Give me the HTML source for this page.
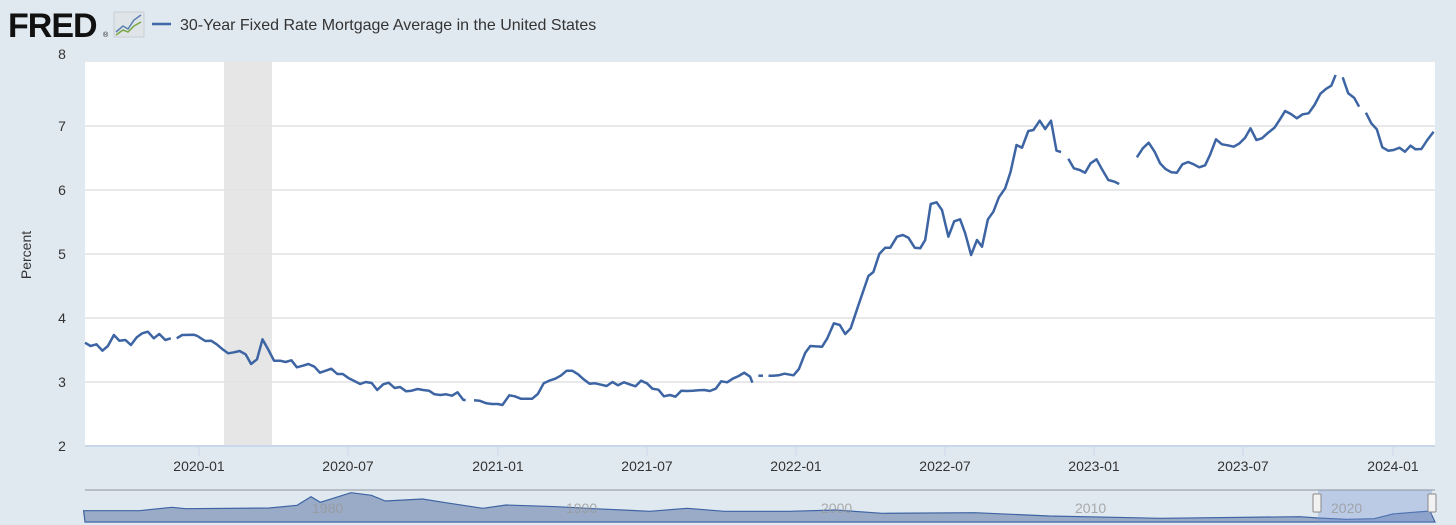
<!DOCTYPE html>
<html><head><meta charset="utf-8"><style>
body{margin:0;width:1456px;height:525px;background:#e1e9f0;overflow:hidden;font-family:"Liberation Sans",sans-serif}
svg{position:absolute;left:0;top:0}
</style></head><body>
<svg width="1456" height="525" viewBox="0 0 1456 525" id="s">
<text x="8" y="37" font-size="34" font-weight="bold" fill="#111" font-family="Liberation Sans" letter-spacing="-1">FRED</text>
<text x="103" y="37" font-size="7" fill="#111">®</text>
<rect x="114" y="12" width="30" height="25" fill="#dfe4e8" stroke="#c8ced4"/>
<polyline points="116,32 123,26 128,29 134,20 141,15" fill="none" stroke="#5a7fb0" stroke-width="1.5"/>
<polyline points="116,35 123,30 128,32 134,26 141,22" fill="none" stroke="#79a642" stroke-width="1.5"/>
<line x1="152" y1="24" x2="171" y2="24" stroke="#4068a8" stroke-width="2.5"/>
<text x="180" y="30" font-size="16" fill="#333">30-Year Fixed Rate Mortgage Average in the United States</text>
<rect x="85" y="62" width="1350" height="384" fill="#fff"/>
<rect x="224" y="62" width="48" height="384" fill="#e6e6e6"/>
<g stroke="#e2e2e2" stroke-width="1.5">
<line x1="85" x2="1435" y1="126" y2="126"/><line x1="85" x2="1435" y1="190" y2="190"/>
<line x1="85" x2="1435" y1="254" y2="254"/><line x1="85" x2="1435" y1="318" y2="318"/>
<line x1="85" x2="1435" y1="382" y2="382"/></g>
<line x1="85" x2="1435" y1="446" y2="446" stroke="#ccd6eb" stroke-width="2"/>
<g stroke="#ccd6eb"><line x1="199" x2="199" y1="446" y2="456"/><line x1="348" x2="348" y1="446" y2="456"/><line x1="498" x2="498" y1="446" y2="456"/><line x1="647" x2="647" y1="446" y2="456"/><line x1="796" x2="796" y1="446" y2="456"/><line x1="945" x2="945" y1="446" y2="456"/><line x1="1094" x2="1094" y1="446" y2="456"/><line x1="1243" x2="1243" y1="446" y2="456"/><line x1="1393" x2="1393" y1="446" y2="456"/></g>
<g font-size="14" fill="#333" text-anchor="middle">
<text x="62" y="59">8</text><text x="62" y="131">7</text><text x="62" y="195">6</text><text x="62" y="259">5</text><text x="62" y="323">4</text><text x="62" y="387">3</text><text x="62" y="451">2</text>
<text x="199" y="471">2020-01</text><text x="348" y="471">2020-07</text><text x="498" y="471">2021-01</text><text x="647" y="471">2021-07</text><text x="796" y="471">2022-01</text><text x="945" y="471">2022-07</text><text x="1094" y="471">2023-01</text><text x="1243" y="471">2023-07</text><text x="1393" y="471">2024-01</text>
<text transform="translate(31,255) rotate(-90)">Percent</text>
</g>
<rect x="85" y="490" width="1350" height="32" fill="#e1e9f0"/>
<line x1="85" x2="1435" y1="490" y2="490" stroke="#b8bec6" stroke-width="2"/>
<path id="nav" fill="#9aabc8" stroke="#3d64a3" stroke-width="1.2"/>
<rect x="1318" y="490" width="114" height="32" fill="rgba(120,150,210,0.35)"/>
<g font-size="14" fill="#999" fill-opacity="0.8"><text x="312" y="513">1980</text><text x="566" y="513">1990</text><text x="821" y="513">2000</text><text x="1075" y="513">2010</text><text x="1331" y="513">2020</text></g>
<g fill="#f2f2f2" stroke="#888"><rect x="1313" y="494" width="8" height="18" rx="1"/><rect x="1428" y="494" width="8" height="18" rx="1"/></g>
<g id="lines" fill="none" stroke="#3d64a3" stroke-width="2.5" stroke-linejoin="round"></g>
</svg>
<script>
var z3=[[[0,68],[12,78],[25,73],[38,92],[50,78],[63,45],[75,62],[88,60],[100,75],[113,52],[125,40],[137,35],[150,55],[162,42],[175,60],[187,55]],
[[200,55],[212,45],[237,44],[245,48],[262,63],[275,62],[287,73],[300,88],[312,100],[325,97],[337,93],[350,103],[362,132],[375,118],[387,58],[400,90],[412,122],[425,122],[437,126],[450,121],[462,142],[475,137],[487,132],[500,140],[512,158],[525,152],[537,146],[550,162],[562,162],[575,175],[587,183],[600,192],[612,186],[625,189],[637,210],[650,193],[662,188],[675,204],[687,201],[700,214],[712,212],[725,207],[737,210],[750,212],[762,223],[775,225],[787,223],[800,227],[812,217],[825,240],[830,240]],
[[848,241],[860,242],[875,250],[887,252],[900,252],[910,255],[925,226],[937,229],[950,236],[962,236],[975,236],[987,222],[1000,190],[1012,182],[1025,176],[1037,167],[1050,152],[1062,152],[1075,163],[1087,178],[1100,191],[1112,190],[1125,194],[1137,198],[1150,186],[1162,196],[1175,187],[1187,193],[1200,199],[1212,182],[1225,190],[1237,206],[1250,209],[1262,229],[1275,225],[1287,230],[1300,212],[1312,213],[1325,212],[1337,211],[1350,210],[1362,213],[1375,206],[1387,184],[1400,187],[1412,176],[1425,168],[1437,158],[1450,170],[1455,188]],
[[1468,167],[1478,167]],
[[1490,167],[1500,167],[1512,166],[1525,161]]];
var z4=[[[1525,161],"X"],[[32,946],[45,927],[60,878],[72,858],[100,860],[112,836],[128,790],[142,795],[155,822],[168,805],[185,740],[210,648],[222,636],[236,582],[250,563],[262,563],[278,530],[292,525],[305,533],[320,563],[333,565],[345,540],[358,432],[372,427],[385,450],[400,530],[414,484],[428,478],[440,520],[454,585],[468,540],[480,560],[494,478],[507,455],[520,412],[535,385],[548,335],[562,255],[575,263],[590,213],[602,210],[617,182],[630,207],[644,182],[657,272],[668,276]],
[[685,296],[698,325],[712,330],[725,338],[738,310],[752,298],[765,328],[780,360],[795,365],[806,372]],
[[848,292],[862,265],[876,248],[890,275],[903,310],[916,327],[930,337],[943,338],[956,313],[970,306],[983,313],[996,322],[1010,316],[1022,284],[1036,238],[1050,253],[1064,256],[1078,260],[1092,250],[1105,233],[1118,205],[1132,240],[1145,235],[1160,218],[1175,203],[1188,178],[1200,153],[1214,162],[1228,175],[1242,163],[1256,160],[1270,135],[1284,101],[1298,86],[1310,77],[1320,45]],
[[1337,52],[1350,100],[1364,113],[1376,140]],
[[1392,158],[1405,190],[1418,208],[1431,262],[1445,272],[1458,270],[1472,263],[1485,275],[1498,257],[1510,268],[1524,267],[1538,240],[1553,215]]];
var segs=[];
z3.forEach(function(s){segs.push(s.map(function(p){return [85+p[0]/2.18,320+p[1]/3];}));});
var last=segs[segs.length-1];
var c=z4[1].map(function(p){return [780+p[0]/2.376,60+p[1]/3];});
segs[segs.length-1]=last.concat(c);
for(var i=2;i<z4.length;i++)segs.push(z4[i].map(function(p){return [780+p[0]/2.376,60+p[1]/3];}));
var g=document.getElementById('lines'),h='';
segs.forEach(function(s){h+='<path d="M'+s.map(function(p){return p[0].toFixed(1)+','+p[1].toFixed(1);}).join('L')+'"/>';});
g.innerHTML=h;
var nv=[[90,242],[150,242],[185,232],[200,236],[290,234],[320,226],[335,200],[345,217],[378,188],[400,196],[415,213],[455,207],[480,218],[520,235],[545,225],[600,230],[640,236],[700,244],[740,235],[780,244],[850,244],[900,240],[950,250],[1050,248],[1130,258],[1200,262],[1250,265],[1400,260],[1420,264],[1450,268],[1480,266],[1500,252],[1540,243]];
var d='M85,522L'+nv.map(function(p){return (p[0]/1.077).toFixed(1)+','+(430+p[1]/3).toFixed(1);}).join('L')+'L1435,522Z';
document.getElementById('nav').setAttribute('d',d);
</script>
</body></html>
